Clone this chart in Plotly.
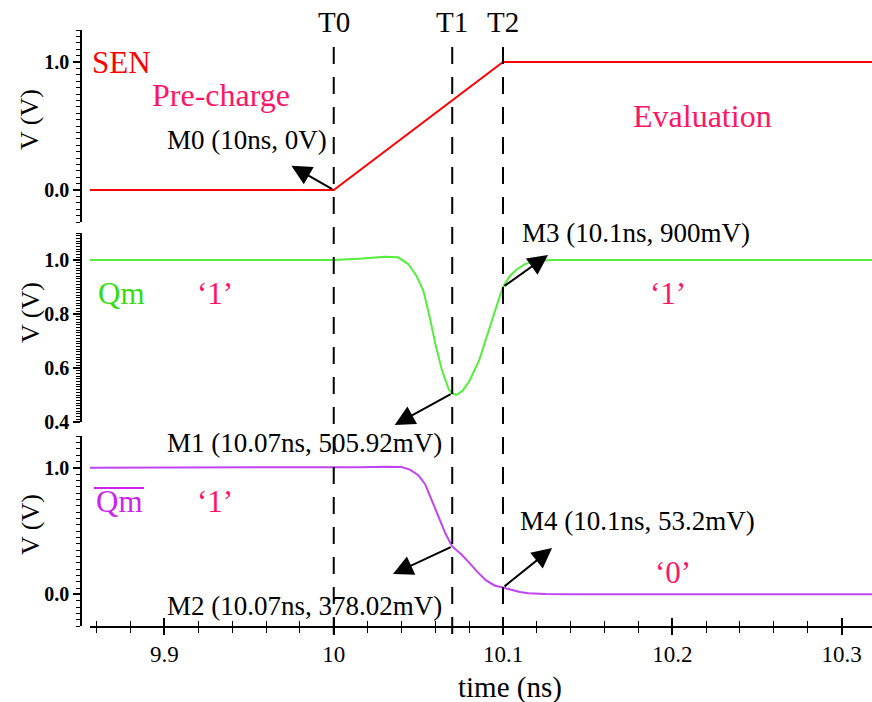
import plotly.graph_objects as go

# ---------------- data ----------------
t_sen = [9.85, 10.0, 10.1, 10.33]
v_sen = [0.0, 0.0, 1.0, 1.0]

t_qm = [9.85, 10.0, 10.015, 10.03, 10.038, 10.044, 10.049, 10.053, 10.057, 10.060,
        10.064, 10.068, 10.07, 10.0725, 10.076, 10.08, 10.086, 10.092, 10.097, 10.1,
        10.104, 10.108, 10.113, 10.12, 10.13, 10.33]
v_qm = [1.0, 1.0, 1.005, 1.012, 1.01, 0.985, 0.94, 0.885, 0.78, 0.69,
        0.59, 0.52, 0.506, 0.50, 0.515, 0.55, 0.63, 0.75, 0.845, 0.90,
        0.94, 0.965, 0.985, 0.997, 1.0, 1.0]

t_qmb = [9.85, 10.0, 10.015, 10.03, 10.04, 10.045, 10.05, 10.054, 10.058, 10.062,
         10.066, 10.07, 10.075, 10.08, 10.085, 10.09, 10.095, 10.1, 10.105, 10.11,
         10.115, 10.125, 10.14, 10.33]
v_qmb = [1.0, 1.0, 1.004, 1.008, 1.005, 0.985, 0.94, 0.87, 0.74, 0.60,
         0.48, 0.378, 0.32, 0.25, 0.175, 0.11, 0.07, 0.0532, 0.033, 0.018,
         0.008, 0.002, 0.0, 0.0]

t_marks = [10.0, 10.07, 10.1]
t_mark_labels = ["T0", "T1", "T2"]

mk_labels = ["M0 (10ns, 0V)", "M1 (10.07ns, 505.92mV)", "M2 (10.07ns, 378.02mV)",
             "M3 (10.1ns, 900mV)", "M4 (10.1ns, 53.2mV)"]
mk_t = [10.0, 10.07, 10.07, 10.1, 10.1]
mk_v = [0.0, 0.50592, 0.37802, 0.9, 0.0532]

x_ticks = [9.9, 10.0, 10.1, 10.2, 10.3]
x_tick_text = ["9.9", "10", "10.1", "10.2", "10.3"]

# ---------------- geometry helpers ----------------
W, H = 872, 702
ML, MR, MT, MB = 81, 0, 30, 70
PW, PH = W - ML - MR, H - MT - MB


def px(x):
    return (x - ML) / PW


def py(y):
    return (MT + PH - y) / PH


FONT = "Liberation Serif, Times New Roman, serif"
PINK = "#ff1466"
GREEN_LINE = "#55ee3c"
GREEN_TXT = "#33dd11"
PURP_LINE = "#c044f0"
PURP_TXT = "#cc22ee"

fig = go.Figure()
fig.add_trace(go.Scatter(x=t_sen, y=v_sen, mode="lines", line=dict(color="#ff0000", width=2),
                         xaxis="x", yaxis="y", showlegend=False))
fig.add_trace(go.Scatter(x=t_qm, y=v_qm, mode="lines", line=dict(color=GREEN_LINE, width=2),
                         xaxis="x", yaxis="y2", showlegend=False))
fig.add_trace(go.Scatter(x=t_qmb, y=v_qmb, mode="lines", line=dict(color=PURP_LINE, width=2),
                         xaxis="x", yaxis="y3", showlegend=False))
fig.add_trace(go.Scatter(x=[None], y=[None], xaxis="x2", yaxis="y3", showlegend=False,
                         hoverinfo="skip"))

xr = [9.856, 10.318]
common_x = dict(range=xr, showgrid=False, zeroline=False, tickvals=x_ticks, ticktext=x_tick_text)
fig.update_layout(
    xaxis=dict(domain=[px(90), 1], anchor="y3", showline=True, linecolor="black", linewidth=1.5,
               ticks="outside", ticklen=7, tickwidth=1.5, tickcolor="black",
               minor=dict(dtick=0.02, tick0=10.0, ticks="outside", ticklen=5, tickcolor="black", tickwidth=1.2),
               tickfont=dict(family=FONT, size=23, color="black"), **common_x),
    xaxis2=dict(domain=[px(90), 1], anchor="y3", overlaying="x", showline=False,
                ticks="inside", ticklen=8, tickwidth=1.5, tickcolor="black", showticklabels=False,
                minor=dict(dtick=0.02, tick0=10.0, ticks="inside", ticklen=5, tickcolor="black", tickwidth=1.2),
                **common_x),
)

ycommon = dict(anchor="free", position=0, showline=True, linecolor="black", linewidth=1.5,
               ticks="outside", ticklen=7, tickwidth=1.5, tickcolor="black", showgrid=False,
               zeroline=False, tickformat=".1f",
               tickfont=dict(family=FONT, size=20, color="black", weight="bold"))
fig.update_layout(
    yaxis=dict(domain=[py(222), py(30)], range=[-0.25, 1.25], tickvals=[0.0, 1.0],
               minor=dict(dtick=0.05, tick0=0, ticks="outside", ticklen=4, tickcolor="black", tickwidth=1.2),
               **ycommon),
    yaxis2=dict(domain=[py(422), py(233)], range=[0.4, 1.1], tickvals=[0.4, 0.6, 0.8, 1.0],
                minor=dict(dtick=0.01, tick0=0, ticks="outside", ticklen=4, tickcolor="black", tickwidth=1),
                **ycommon),
    yaxis3=dict(domain=[py(626), py(436)], range=[-0.25, 1.25], tickvals=[0.0, 1.0],
                minor=dict(dtick=0.05, tick0=0, ticks="outside", ticklen=4, tickcolor="black", tickwidth=1.2),
                **ycommon),
)

shapes = []
for t in t_marks:
    shapes.append(dict(type="line", xref="x", yref="paper", x0=t, x1=t, y0=py(634), y1=py(38),
                       line=dict(color="black", width=2, dash="17px,13px")))
shapes.append(dict(type="line", xref="paper", yref="paper", x0=px(94), x1=px(144), y0=py(488), y1=py(488),
                   line=dict(color=PURP_TXT, width=2)))

ann = []


def txt(text, x, y, size, color="black", xanchor="center"):
    ann.append(dict(text=text, xref="paper", yref="paper", x=px(x), y=py(y), showarrow=False,
                    xanchor=xanchor, yanchor="middle", font=dict(family=FONT, size=size, color=color)))


for t, lab in zip(t_marks, t_mark_labels):
    ann.append(dict(text=lab, xref="x", yref="paper", x=t, y=py(22), showarrow=False,
                    xanchor="center", yanchor="middle", font=dict(family=FONT, size=29, color="black")))

txt("time (ns)", 510, 687, 29)
for yc in [120, 313, 525]:
    ann.append(dict(text="V (V)", xref="paper", yref="paper", x=px(30), y=py(yc), showarrow=False,
                    textangle=-90, xanchor="center", yanchor="middle",
                    font=dict(family=FONT, size=26, color="black")))

txt("SEN", 121, 63, 31, "#ff0000")
txt("Pre-charge", 221, 95, 32, PINK)
txt("Evaluation", 702, 116, 32, PINK)
txt("Qm", 121, 293, 31, GREEN_TXT)
txt("\u20181\u2019", 215, 293, 31, PINK)
txt("\u20181\u2019", 668, 293, 31, PINK)
txt("Qm", 119, 501, 31, PURP_TXT)
txt("\u20181\u2019", 215, 501, 31, PINK)
txt("\u20180\u2019", 673, 572, 31, PINK)

txt(mk_labels[0], 165, 140, 27, xanchor="left")
txt(mk_labels[1], 165, 443, 27, xanchor="left")
txt(mk_labels[2], 165, 606, 27, xanchor="left")
txt(mk_labels[3], 520, 233, 27, xanchor="left")
txt(mk_labels[4], 518, 521, 27, xanchor="left")

heads = [(9.975, 0.19, "y"), (10.036, 0.389, "y2"), (10.035, 0.16, "y3"),
         (10.1266, 1.0185, "y2"), (10.129, 0.365, "y3")]
for (hx, hy, yr), t, v in zip(heads, mk_t, mk_v):
    ann.append(dict(text="", xref="x", yref=yr, x=hx, y=hy, axref="x", ayref=yr, ax=t, ay=v,
                    showarrow=True, arrowhead=2, arrowsize=2, arrowwidth=2, arrowcolor="black",
                    standoff=0, startstandoff=0))

fig.update_layout(width=W, height=H, margin=dict(l=ML, r=MR, t=MT, b=MB),
                  paper_bgcolor="white", plot_bgcolor="white", shapes=shapes, annotations=ann,
                  font=dict(family=FONT, color="black"))

fig.write_html("out.html", config={"displayModeBar": False},
               post_script="document.body.style.margin='0';document.body.style.padding='0';")
